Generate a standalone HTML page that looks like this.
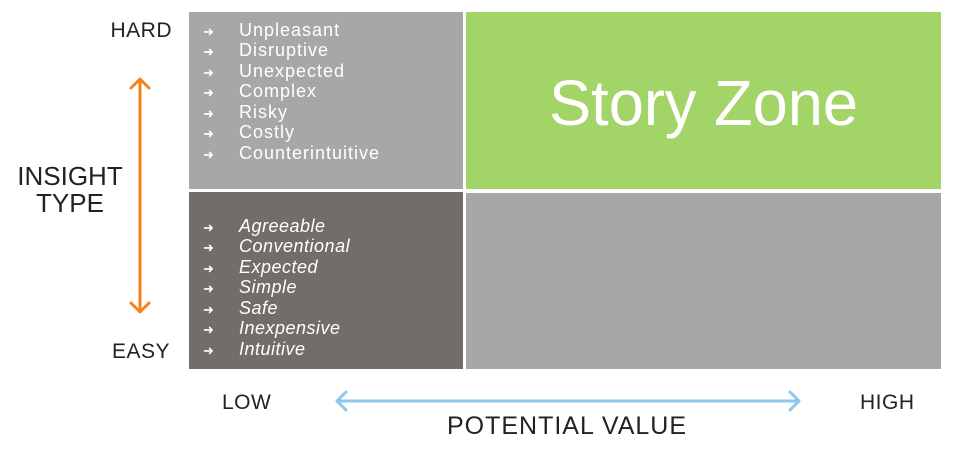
<!DOCTYPE html>
<html><head><meta charset="utf-8"><style>
html,body{margin:0;padding:0;background:#fff;}
svg{display:block;}
text{font-family:"Liberation Sans",sans-serif;}
</style></head><body>
<svg width="960" height="453" viewBox="0 0 960 453" xmlns="http://www.w3.org/2000/svg">
<rect x="0" y="0" width="960" height="453" fill="#fff"/>
<rect x="189" y="12" width="274" height="177" fill="#a8a7a6"/>
<rect x="466" y="12" width="475" height="177" fill="#a2d468"/>
<rect x="189" y="192" width="274" height="177" fill="#716d6b"/>
<rect x="466" y="193" width="475" height="176" fill="#a8a7a6"/>
<text x="549" y="125" font-size="64" fill="#fff" textLength="309" lengthAdjust="spacingAndGlyphs">Story Zone</text>
<g fill="#fff" font-size="18" letter-spacing="1">
<text x="203" y="36" font-size="13" letter-spacing="0">➜</text><text x="239" y="36">Unpleasant</text>
<text x="203" y="56" font-size="13" letter-spacing="0">➜</text><text x="239" y="56">Disruptive</text>
<text x="203" y="77" font-size="13" letter-spacing="0">➜</text><text x="239" y="77">Unexpected</text>
<text x="203" y="97" font-size="13" letter-spacing="0">➜</text><text x="239" y="97">Complex</text>
<text x="203" y="118" font-size="13" letter-spacing="0">➜</text><text x="239" y="118">Risky</text>
<text x="203" y="138" font-size="13" letter-spacing="0">➜</text><text x="239" y="138">Costly</text>
<text x="203" y="159" font-size="13" letter-spacing="0">➜</text><text x="239" y="159">Counterintuitive</text>
</g>
<g fill="#fff" font-size="18" font-style="italic" letter-spacing="0.5">
<text x="203" y="232" font-size="13" font-style="normal" letter-spacing="0">➜</text><text x="239" y="232">Agreeable</text>
<text x="203" y="252" font-size="13" font-style="normal" letter-spacing="0">➜</text><text x="239" y="252">Conventional</text>
<text x="203" y="273" font-size="13" font-style="normal" letter-spacing="0">➜</text><text x="239" y="273">Expected</text>
<text x="203" y="293" font-size="13" font-style="normal" letter-spacing="0">➜</text><text x="239" y="293">Simple</text>
<text x="203" y="314" font-size="13" font-style="normal" letter-spacing="0">➜</text><text x="239" y="314">Safe</text>
<text x="203" y="334" font-size="13" font-style="normal" letter-spacing="0">➜</text><text x="239" y="334">Inexpensive</text>
<text x="203" y="355" font-size="13" font-style="normal" letter-spacing="0">➜</text><text x="239" y="355">Intuitive</text>
</g>
<g fill="#222" font-size="21">
<text x="172" y="37" text-anchor="end" letter-spacing="0.5">HARD</text>
<text x="170" y="358" text-anchor="end" letter-spacing="0.5">EASY</text>
<text x="70" y="185" text-anchor="middle" font-size="26">INSIGHT</text>
<text x="70" y="212" text-anchor="middle" font-size="26">TYPE</text>
<text x="222" y="409" letter-spacing="0.5">LOW</text>
<text x="860" y="409" letter-spacing="0.5">HIGH</text>
<text x="567" y="434" text-anchor="middle" font-size="25" letter-spacing="1">POTENTIAL VALUE</text>
</g>
<g stroke="#f5821f" stroke-width="3" fill="none" stroke-linecap="round" stroke-linejoin="round">
<line x1="140" y1="80" x2="140" y2="311"/>
<polyline points="131,88 140,79 149,88"/>
<polyline points="131,303 140,312 149,303"/>
</g>
<g stroke="#8fc7ec" stroke-width="3" fill="none" stroke-linecap="round" stroke-linejoin="round">
<line x1="338" y1="401" x2="798" y2="401"/>
<polyline points="346,392 337,401 346,410"/>
<polyline points="790,392 799,401 790,410"/>
</g>
</svg>
</body></html>
